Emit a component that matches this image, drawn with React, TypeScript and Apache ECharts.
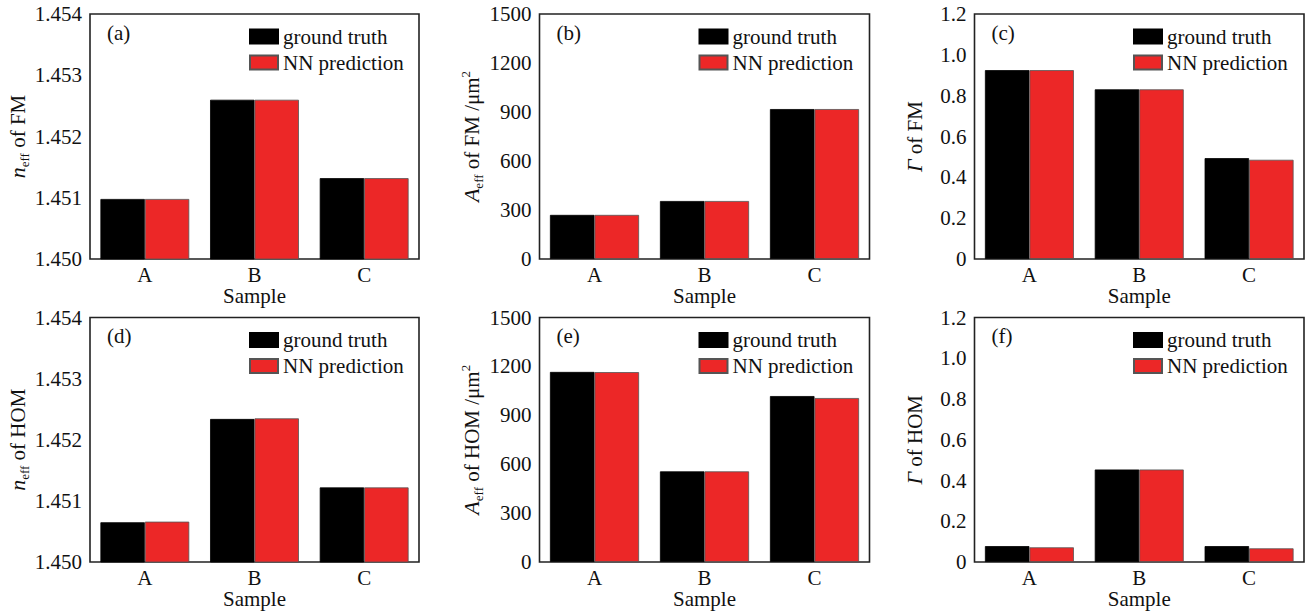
import React, { useEffect, useRef } from "react";
import * as echarts from "echarts";

const categories = ["A", "B", "C"];
const seriesNames = ["ground truth", "NN prediction"];

const neffFMTruth = [1.45098, 1.4526, 1.45132];
const neffFMPred = [1.45098, 1.4526, 1.45132];
const aeffFMTruth = [270, 355, 918];
const aeffFMPred = [270, 355, 918];
const gammaFMTruth = [0.925, 0.831, 0.494];
const gammaFMPred = [0.925, 0.831, 0.486];
const neffHOMTruth = [1.45065, 1.45234, 1.45122];
const neffHOMPred = [1.45066, 1.45235, 1.45122];
const aeffHOMTruth = [1166, 556, 1018];
const aeffHOMPred = [1165, 556, 1006];
const gammaHOMTruth = [0.078, 0.454, 0.078];
const gammaHOMPred = [0.072, 0.454, 0.067];

const panelLabels = ["(a)", "(b)", "(c)", "(d)", "(e)", "(f)"];

const FONT = "'Liberation Serif', 'Times New Roman', serif";
const RED = "#EC2727";

type Panel = {
  truth: number[];
  pred: number[];
  min: number;
  max: number;
  interval: number;
  decimals: number;
  name: string;
  nameGap: number;
};

const panels: Panel[] = [
  { truth: neffFMTruth, pred: neffFMPred, min: 1.45, max: 1.454, interval: 0.001, decimals: 3, name: "{i|n}{s|eff}{t| of FM}", nameGap: 57 },
  { truth: aeffFMTruth, pred: aeffFMPred, min: 0, max: 1500, interval: 300, decimals: 0, name: "{i|A}{s|eff}{t| of FM /μm}{p|2}", nameGap: 55 },
  { truth: gammaFMTruth, pred: gammaFMPred, min: 0, max: 1.2, interval: 0.2, decimals: 1, name: "{i|Γ}{t| of FM}", nameGap: 47 },
  { truth: neffHOMTruth, pred: neffHOMPred, min: 1.45, max: 1.454, interval: 0.001, decimals: 3, name: "{i|n}{s|eff}{t| of HOM}", nameGap: 57 },
  { truth: aeffHOMTruth, pred: aeffHOMPred, min: 0, max: 1500, interval: 300, decimals: 0, name: "{i|A}{s|eff}{t| of HOM /μm}{p|2}", nameGap: 55 },
  { truth: gammaHOMTruth, pred: gammaHOMPred, min: 0, max: 1.2, interval: 0.2, decimals: 1, name: "{i|Γ}{t| of HOM}", nameGap: 47 },
];

const colLeft = [90, 539.5, 974.5];
const colWidth = [329, 330, 329.5];
const rowTop = [14, 317.5];
const rowHeight = [245, 244.5];
const legendLeft = [249, 698.5, 1133];

export default function App() {
  const ref = useRef<HTMLDivElement>(null);
  useEffect(() => {
    if (!ref.current) return;
    const chart = echarts.init(ref.current, undefined, { renderer: "svg" });
    const grids: any[] = [];
    const xAxes: any[] = [];
    const yAxes: any[] = [];
    const series: any[] = [];
    const legends: any[] = [];
    const graphics: any[] = [];
    panels.forEach((p, i) => {
      const r = Math.floor(i / 3);
      const c = i % 3;
      grids.push({
        left: colLeft[c],
        top: rowTop[r],
        width: colWidth[c],
        height: rowHeight[r],
        show: true,
        borderColor: "#222",
        borderWidth: 1.6,
        backgroundColor: "transparent",
      });
      xAxes.push({
        type: "category",
        gridIndex: i,
        data: categories,
        axisLine: { show: false },
        axisTick: { show: false },
        axisLabel: { fontFamily: FONT, fontSize: 21, color: "#111", margin: 5 },
        name: "Sample",
        nameLocation: "middle",
        nameGap: 24,
        nameTextStyle: { fontFamily: FONT, fontSize: 21, color: "#111" },
      });
      yAxes.push({
        type: "value",
        gridIndex: i,
        min: p.min,
        max: p.max,
        interval: p.interval,
        splitLine: { show: false },
        axisLine: { show: false },
        axisTick: { show: false },
        axisLabel: {
          fontFamily: FONT,
          fontSize: 21,
          color: "#111",
          margin: 8,
          formatter: (v: number) => (v === 0 ? "0" : v.toFixed(p.decimals)),
        },
        name: p.name,
        nameLocation: "middle",
        nameGap: p.nameGap,
        nameRotate: 90,
        nameTextStyle: {
          fontFamily: FONT,
          color: "#111",
          rich: {
            i: { fontFamily: FONT, fontSize: 22, fontStyle: "italic", color: "#111", lineHeight: 26 },
            s: { fontFamily: FONT, fontSize: 13, color: "#111", verticalAlign: "bottom", lineHeight: 26 },
            t: { fontFamily: FONT, fontSize: 21, color: "#111", lineHeight: 26 },
            p: { fontFamily: FONT, fontSize: 13, color: "#111", verticalAlign: "top", lineHeight: 26 },
          },
        },
      });
      series.push({
        type: "bar",
        name: seriesNames[0],
        xAxisIndex: i,
        yAxisIndex: i,
        data: p.truth,
        barGap: "0%",
        barCategoryGap: "19%",
        itemStyle: { color: "#000", borderColor: "#000", borderWidth: 0.8 },
      });
      series.push({
        type: "bar",
        name: seriesNames[1],
        xAxisIndex: i,
        yAxisIndex: i,
        data: p.pred,
        barGap: "0%",
        barCategoryGap: "19%",
        itemStyle: { color: RED, borderColor: "#555", borderWidth: 0.8 },
      });
      legends.push({
        orient: "vertical",
        left: legendLeft[c],
        top: rowTop[r] + 12,
        itemWidth: 28,
        itemHeight: 14,
        itemGap: 5,
        padding: 0,
        data: seriesNames,
        selectedMode: false,
        textStyle: { fontFamily: FONT, fontSize: 21, color: "#111", lineHeight: 21 },
        icon: "rect",
      });
      graphics.push({
        type: "text",
        left: colLeft[c] + 17,
        top: rowTop[r] + 8,
        style: { text: panelLabels[i], font: "21px 'Liberation Serif', serif", fill: "#111" },
      });
    });
    chart.setOption({
      animation: false,
      backgroundColor: "#fff",
      grid: grids,
      xAxis: xAxes,
      yAxis: yAxes,
      series,
      legend: legends,
      graphic: graphics,
    });
    return () => chart.dispose();
  }, []);
  return (
    <div
      ref={ref}
      style={{ position: "fixed", left: 0, top: 0, width: 1311, height: 614 }}
    />
  );
}
